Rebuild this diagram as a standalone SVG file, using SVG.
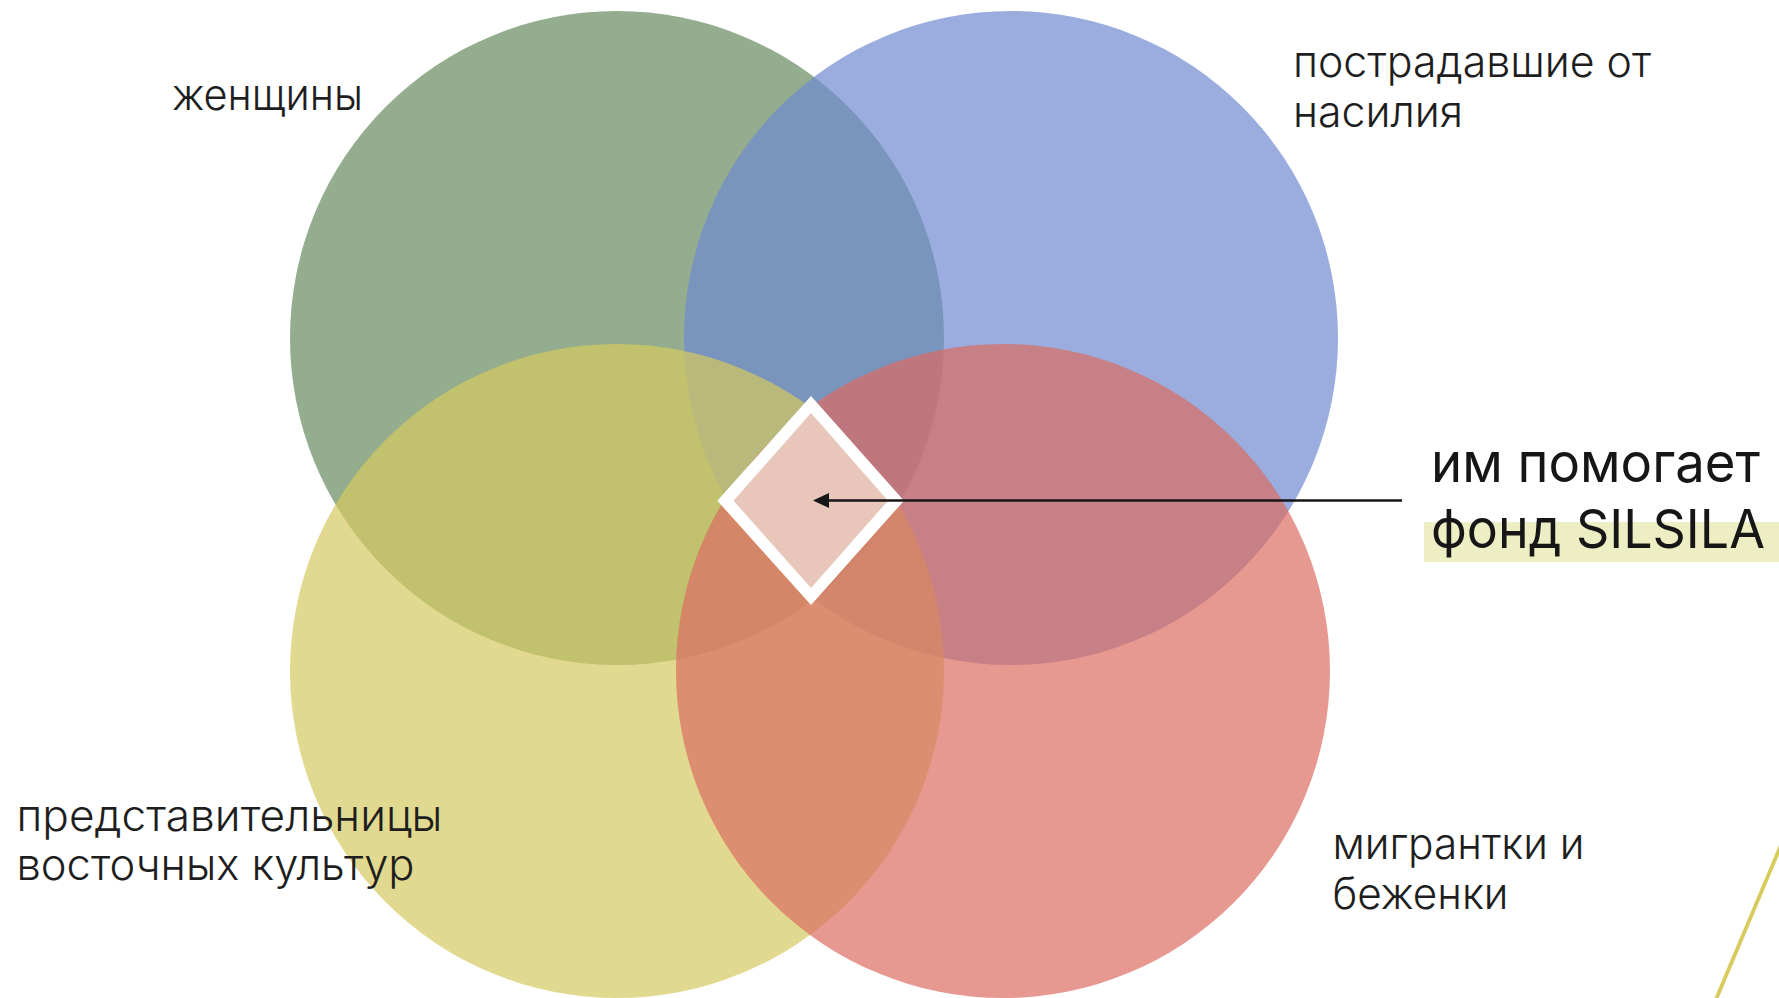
<svg xmlns="http://www.w3.org/2000/svg" width="1779" height="998" viewBox="0 0 1779 998">
<defs>
<style>
.c{opacity:0.7}
.lbl{font-family:Inter,"Noto Sans","DejaVu Sans",sans-serif;font-size:43px;font-weight:300;fill:#1e1e1e}
.big{font-family:Inter,"Noto Sans","DejaVu Sans",sans-serif;font-size:54px;font-weight:400;fill:#161616}
</style>
<marker id="ah" viewBox="0 0 16 16" refX="0" refY="8" markerWidth="16" markerHeight="16" markerUnits="userSpaceOnUse" orient="auto">
<path d="M0,0.5 L16,8 L0,15.5 Z" fill="#161616"/>
</marker>
</defs>
<rect width="1779" height="998" fill="#ffffff"/>
<g id="circle-women"><circle class="c" cx="617" cy="338" r="327" fill="#668A5F"/></g>
<g id="circle-violence"><circle class="c" cx="1011" cy="338" r="327" fill="#6F8AD0"/></g>
<g id="circle-eastern"><circle class="c" cx="617" cy="671" r="327" fill="#D4C960"/></g>
<g id="circle-migrants"><circle class="c" cx="1003" cy="671" r="327" fill="#DB6C62"/></g>
<g id="diamond">
<polygon points="811,396 904,500.7 811,605 717.3,500.7" fill="#ffffff"/>
<polygon points="811,413 888,500.7 811,588 733.5,500.7" fill="#E8C6BA"/>
</g>
<g id="connectors">
<line x1="1402" y1="500.5" x2="829" y2="500.5" stroke="#161616" stroke-width="2.5" marker-end="url(#ah)"/>
</g>
<g id="label-women"><text class="lbl" x="172" y="110" textLength="191" lengthAdjust="spacingAndGlyphs">женщины</text></g>
<g id="label-violence">
<text class="lbl" x="1293" y="77" textLength="358" lengthAdjust="spacingAndGlyphs">пострадавшие от</text>
<text class="lbl" x="1293" y="126.5" textLength="170" lengthAdjust="spacingAndGlyphs">насилия</text>
</g>
<g id="label-eastern">
<text class="lbl" x="16.5" y="831" textLength="426" lengthAdjust="spacingAndGlyphs">представительницы</text>
<text class="lbl" x="16.5" y="880" textLength="398" lengthAdjust="spacingAndGlyphs">восточных культур</text>
</g>
<g id="label-migrants">
<text class="lbl" x="1332.5" y="858.5" textLength="252" lengthAdjust="spacingAndGlyphs">мигрантки и</text>
<text class="lbl" x="1332.5" y="909" textLength="176" lengthAdjust="spacingAndGlyphs">беженки</text>
</g>
<g id="label-silsila">
<rect x="1424" y="522" width="355" height="40" fill="#EDEEC3"/>
<text class="big" x="1431" y="482" textLength="329" lengthAdjust="spacingAndGlyphs">им помогает</text>
<text class="big" x="1431" y="548" textLength="334" lengthAdjust="spacingAndGlyphs">фонд SILSILA</text>
</g>
<line x1="1800" y1="800" x2="1706.5" y2="1022" stroke="#D8CB5E" stroke-width="3.8"/>
</svg>
